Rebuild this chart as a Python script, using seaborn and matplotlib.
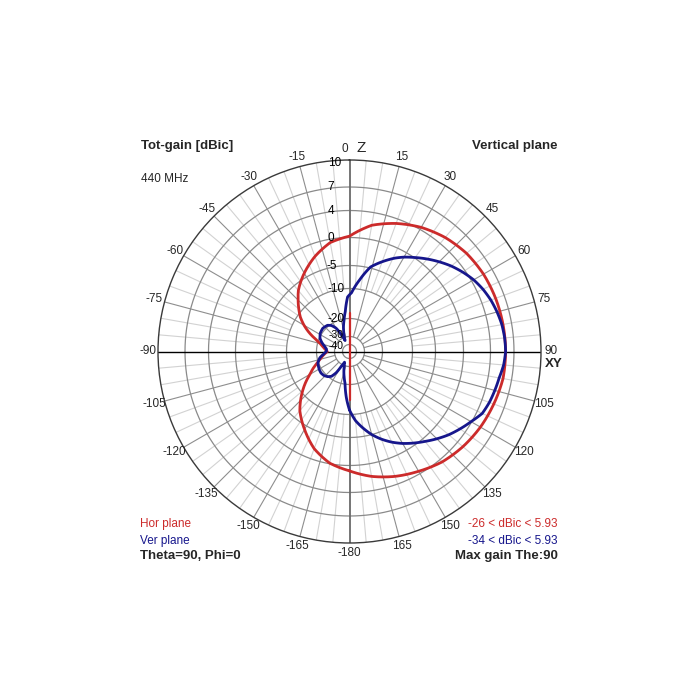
import numpy as np
import matplotlib
matplotlib.use('Agg')
import matplotlib.pyplot as plt
import seaborn as sns

# Radiation pattern, vertical plane, 440 MHz
# angles in degrees: 0 = Z (zenith), 90 = XY (horizon), clockwise; gains in dBic
hor_angle = [-180, -170, -160, -150, -140, -130, -120, -115, -110, -105, -100, -95,
             -90, -85, -80, -75, -70, -65, -60, -55, -50, -45, -40, -35, -30, -20,
             -10, 0, 10, 20, 30, 40, 50, 60, 70, 80, 90, 100, 110, 120, 130, 140,
             150, 160, 170, 180]
hor_gain = [0.8, -0.1, -1.9, -4.3, -6.9, -10.6, -15.8, -17.6, -19.5, -21.3, -23.0, -24.6,
            -26.0, -24.8, -23.3, -21.6, -19.0, -16.2, -13.5, -11.0, -9.3, -7.9, -6.4, -5.2, -4.2, -2.3,
            -0.6, 0.2, 2.1, 3.3, 4.3, 5.0, 5.5, 5.75, 5.85, 5.9, 5.93, 5.9, 5.6, 5.3, 4.9, 4.4,
            3.6, 2.8, 1.9, 0.8]

ver_angle = [-180, -176, -172, -168, -164, -160, -155, -151, -148, -144, -139, -133,
             -127, -120, -110, -102, -96, -90, -84, -78, -72, -66, -58, -49, -40, -35,
             -30, -26, -22, -18, -14, -10, -6, -2, 2, 8, 14, 20, 26, 30, 35, 40, 45, 50,
             55, 60, 65, 70, 75, 80, 85, 90, 95, 100, 105, 110, 115, 120, 125, 130, 135,
             140, 145, 150, 155, 160, 165, 170, 175, 180]
ver_gain = [-11.5, -15.7, -20.5, -24.0, -27.0, -30.0, -34.0, -29.0, -24.5, -21.3, -19.9, -19.3,
            -19.1, -19.3, -19.8, -21.5, -23.8, -25.5, -25.5, -24.2, -22.2, -20.4, -19.5, -19.2, -19.6, -20.7,
            -23.3, -27.5, -34.0, -28.5, -24.5, -20.8, -17.6, -12.8, -11.4, -8.0, -4.8, -3.3, -1.8, -0.9, 0.1, 1.0, 1.9, 2.8,
            3.6, 4.3, 4.8, 5.2, 5.5, 5.75, 5.88, 5.93, 5.75, 5.4, 5.2, 5.0, 4.7, 3.9, 3.1, 2.3, 1.4,
            0.5, -0.4, -1.4, -2.5, -3.7, -5.0, -6.8, -8.6, -11.5]

# red trace drawn straight down the Z axis through the centre
hor_axis_angle = [0, 0, 180, 180]
hor_axis_gain = [-18.3, -50, -50, -14.8]

ring_values = [10, 7, 4, 0, -5, -10, -20, -30, -40]
ring_label_dx = [-8.5, -15.5, -15.5, -15.5, -12.5, -4.5, -4.5, -5.5, -5.5]
ring_label_dy = [-3, 0, -1, -0.5, -0.5, 0, 0, 1.5, -1.5]
ring_label_size = [8.5, 8.5, 8.5, 8.5, 8.5, 8.5, 8.5, 7.5, 7.5]

# MMANA style log radial scale (dB -> radius in pixels of a 191.5 px circle)
scale_db = [-50, -40, -30, -20, -10, -5, 0, 4, 7, 10]
scale_px = [0, 7, 15, 33, 63, 86, 114, 141, 164.5, 191.5]


def fwd(v):
    return np.interp(v, scale_db, scale_px)


def inv(p):
    return np.interp(p, scale_px, scale_db)


RED = '#cc2b2b'
BLUE = '#16168c'

sns.set_style("white")
plt.rcParams['font.family'] = ['Liberation Sans', 'DejaVu Sans']

W = 700
fig = plt.figure(figsize=(7, 7), dpi=100)
fig.patch.set_facecolor('white')
cx, cy, R = 349.5, 351.5, 191.5
ax = fig.add_axes([(cx - R) / W, (W - cy - R) / W, 2 * R / W, 2 * R / W], projection='polar')
ax.set_theta_zero_location('N')
ax.set_theta_direction(-1)
ax.set_rscale('function', functions=(fwd, inv))
ax.set_rlim(-50, 10)
ax.set_xticks([])
ax.set_yticks([])
ax.grid(False)
ax.set_facecolor('white')
ax.spines['polar'].set_color('#3a3a3a')
ax.spines['polar'].set_linewidth(1.0)

# grid: rings and spokes
full = np.linspace(0, 2 * np.pi, 721)
for v in ring_values[1:]:
    ax.plot(full, np.full_like(full, v), color='#8a8a8a', lw=0.9, zorder=1)
for a in range(0, 360, 5):
    if a % 90 == 0:
        continue
    t = np.deg2rad(a)
    if a % 15 == 0:
        ax.plot([t, t], [-30, 10], color='#8e8e8e', lw=0.8, zorder=1)
    else:
        ax.plot([t, t], [-10, 10], color='#d2d2d2', lw=0.8, zorder=0.9)
ax.plot([0, 0], [-50, 10], color='#6a6a6a', lw=1.3, zorder=2)
ax.plot([np.pi, np.pi], [-50, 10], color='#6a6a6a', lw=1.3, zorder=2)
ax.plot([np.pi / 2, np.pi / 2], [-50, 10], color='black', lw=1.0, zorder=2)
ax.plot([-np.pi / 2, -np.pi / 2], [-50, 10], color='black', lw=1.0, zorder=2)


def pattern(angles, gains, color, lw, z):
    sns.lineplot(x=np.deg2rad(angles), y=gains, ax=ax, sort=False, estimator=None,
                 color=color, lw=lw, zorder=z)
    # let the polar transform bend each segment instead of drawing chords
    ax.lines[-1].get_path()._interpolation_steps = 24


pattern(hor_angle, hor_gain, RED, 2.0, 4)
sns.lineplot(x=np.deg2rad(hor_axis_angle), y=hor_axis_gain, ax=ax, sort=False,
             estimator=None, color=RED, lw=1.6, zorder=3)
pattern(ver_angle, ver_gain, BLUE, 2.0, 5)
ax.set_rlim(-50, 10)
ax.set_xlabel('')
ax.set_ylabel('')

# ring labels
for v, dx, dy, fs in zip(ring_values, ring_label_dx, ring_label_dy, ring_label_size):
    ax.annotate(str(v), xy=(0, v), xytext=(dx, dy), textcoords='offset pixels',
                ha='right', va='center', fontsize=fs, color='black', zorder=6)

# angle labels
for a in range(-165, 181, 15):
    if a == 0:
        continue
    t = np.deg2rad(a)
    lab = '-180' if a == 180 else str(a)
    ax.text(0.5 + 0.527 * np.sin(t), 0.5 + 0.527 * np.cos(t), lab, transform=ax.transAxes,
            ha='center', va='center', fontsize=8.5)


def ftext(x, y, s, **kw):
    fig.text(x / W, 1 - y / W, s, va='center', **kw)


ftext(344.5, 149, '0', ha='center', fontsize=8.5)
ftext(361, 148, 'Z', ha='center', fontsize=11)
ftext(553.5, 364, 'XY', ha='center', fontsize=9.5, fontweight='bold')

ftext(141, 146, 'Tot-gain [dBic]', ha='left', fontsize=9.5, fontweight='bold')
ftext(558, 146, 'Vertical plane', ha='right', fontsize=9.5, fontweight='bold')
ftext(141, 179, '440 MHz', ha='left', fontsize=8.5)
ftext(140, 524, 'Hor plane', ha='left', fontsize=8.5, color=RED)
ftext(140, 541, 'Ver plane', ha='left', fontsize=8.5, color=BLUE)
ftext(140, 556, 'Theta=90, Phi=0', ha='left', fontsize=9.5, fontweight='bold')
ftext(558, 524, '-26 < dBic < 5.93', ha='right', fontsize=8.5, color=RED)
ftext(558, 541, '-34 < dBic < 5.93', ha='right', fontsize=8.5, color=BLUE)
ftext(558, 556, 'Max gain The:90', ha='right', fontsize=9.5, fontweight='bold')

plt.savefig('out.png', dpi=100, facecolor='white')
plt.close()
